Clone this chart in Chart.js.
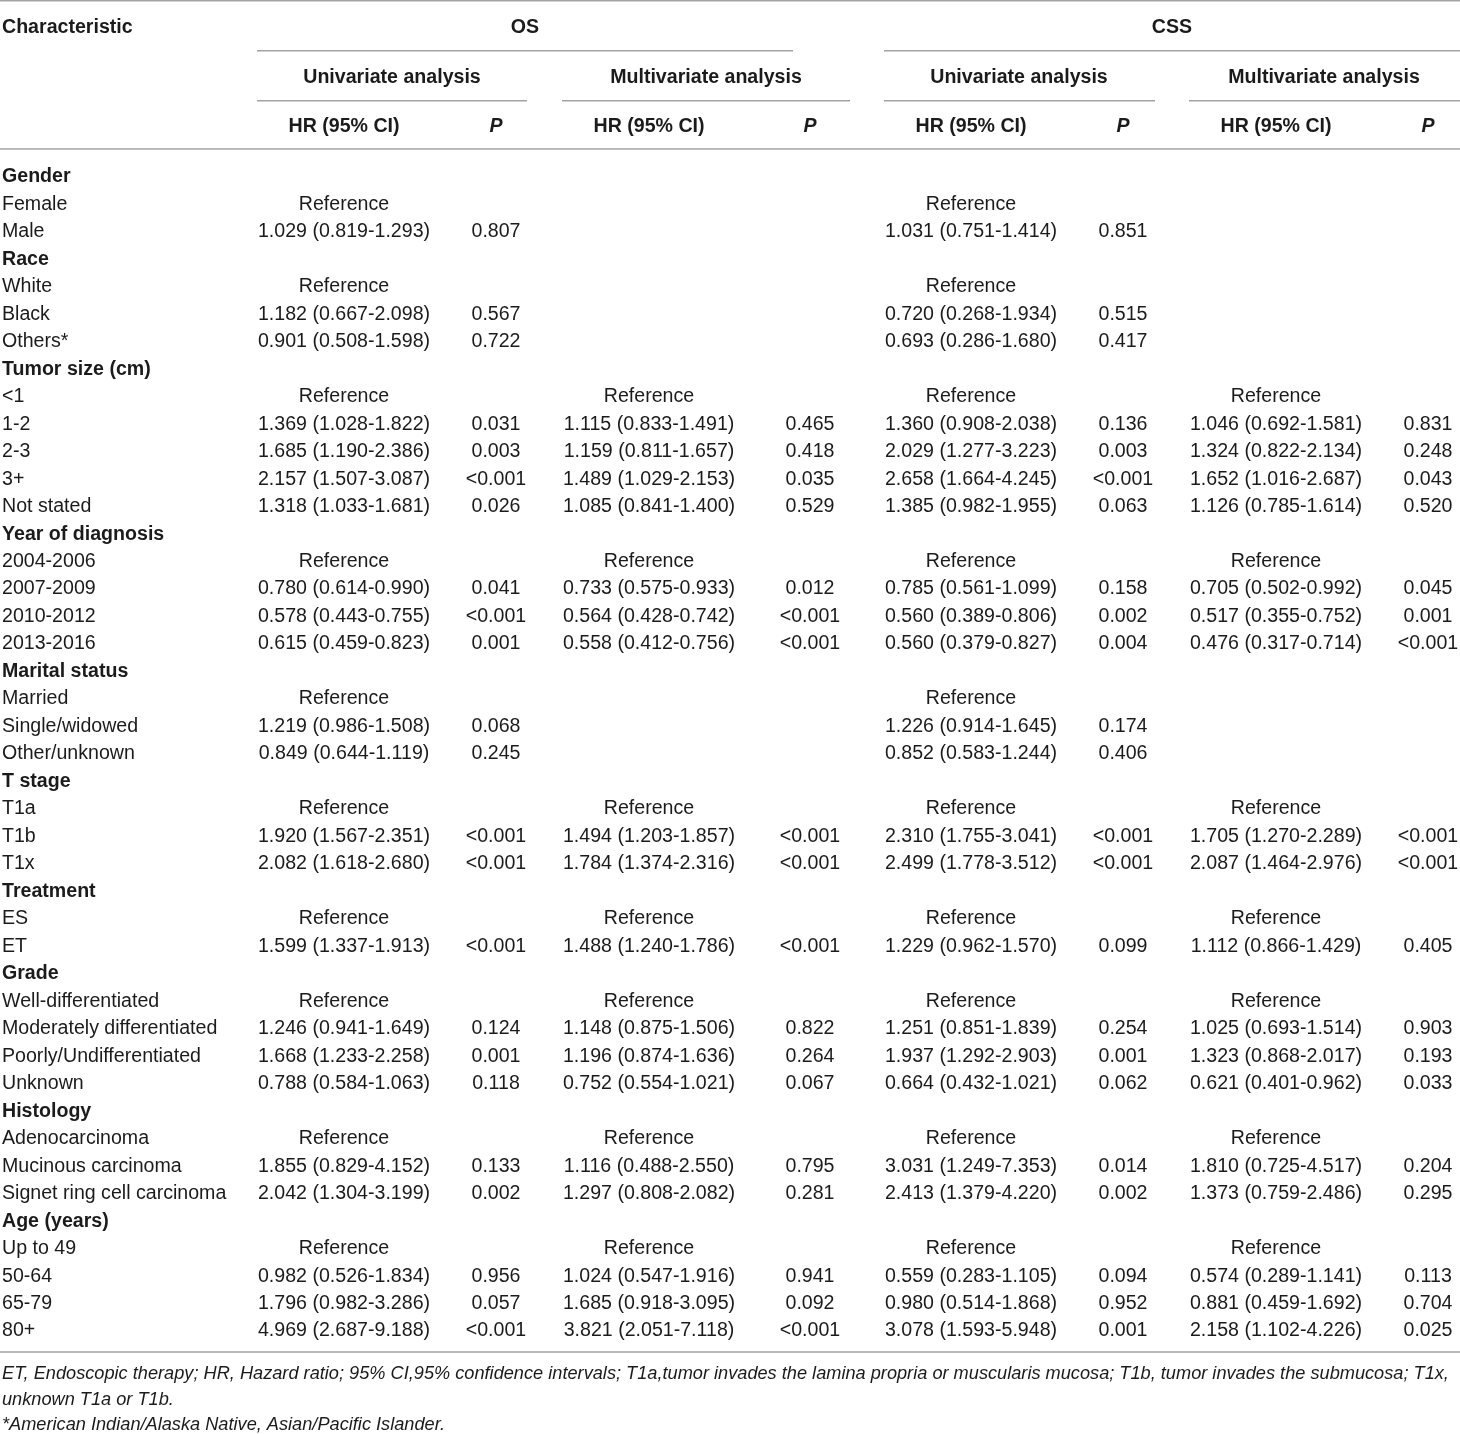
<!DOCTYPE html>
<html>
<head>
<meta charset="utf-8">
<script src="https://cdn.jsdelivr.net/npm/chart.js@4.4.0/dist/chart.umd.min.js"></script>
<style>
  html, body { margin: 0; padding: 0; background: #fff; }
  canvas { display: block; }
</style>
</head>
<body>
<canvas id="table-chart" width="1460" height="1434"></canvas>
<script>
// Row labels (groups are drawn bold)
const rowLabels = [
    'Gender', 'Female', 'Male',
    'Race', 'White', 'Black', 'Others*',
    'Tumor size (cm)', '<1', '1-2', '2-3', '3+', 'Not stated',
    'Year of diagnosis', '2004-2006', '2007-2009', '2010-2012', '2013-2016',
    'Marital status', 'Married', 'Single/widowed', 'Other/unknown',
    'T stage', 'T1a', 'T1b', 'T1x',
    'Treatment', 'ES', 'ET',
    'Grade', 'Well-differentiated', 'Moderately differentiated', 'Poorly/Undifferentiated', 'Unknown',
    'Histology', 'Adenocarcinoma', 'Mucinous carcinoma', 'Signet ring cell carcinoma',
    'Age (years)', 'Up to 49', '50-64', '65-79', '80+'
];
const groupRows = ['Gender', 'Race', 'Tumor size (cm)', 'Year of diagnosis', 'Marital status',
    'T stage', 'Treatment', 'Grade', 'Histology', 'Age (years)'];

const R = 'Reference';

// OS univariate
const osUniHR = ['', R, '1.029 (0.819-1.293)', '', R, '1.182 (0.667-2.098)', '0.901 (0.508-1.598)',
    '', R, '1.369 (1.028-1.822)', '1.685 (1.190-2.386)', '2.157 (1.507-3.087)', '1.318 (1.033-1.681)',
    '', R, '0.780 (0.614-0.990)', '0.578 (0.443-0.755)', '0.615 (0.459-0.823)',
    '', R, '1.219 (0.986-1.508)', '0.849 (0.644-1.119)',
    '', R, '1.920 (1.567-2.351)', '2.082 (1.618-2.680)',
    '', R, '1.599 (1.337-1.913)',
    '', R, '1.246 (0.941-1.649)', '1.668 (1.233-2.258)', '0.788 (0.584-1.063)',
    '', R, '1.855 (0.829-4.152)', '2.042 (1.304-3.199)',
    '', R, '0.982 (0.526-1.834)', '1.796 (0.982-3.286)', '4.969 (2.687-9.188)'];
const osUniP = ['', '', '0.807', '', '', '0.567', '0.722',
    '', '', '0.031', '0.003', '<0.001', '0.026',
    '', '', '0.041', '<0.001', '0.001',
    '', '', '0.068', '0.245',
    '', '', '<0.001', '<0.001',
    '', '', '<0.001',
    '', '', '0.124', '0.001', '0.118',
    '', '', '0.133', '0.002',
    '', '', '0.956', '0.057', '<0.001'];

// OS multivariate
const osMultiHR = ['', '', '', '', '', '', '',
    '', R, '1.115 (0.833-1.491)', '1.159 (0.811-1.657)', '1.489 (1.029-2.153)', '1.085 (0.841-1.400)',
    '', R, '0.733 (0.575-0.933)', '0.564 (0.428-0.742)', '0.558 (0.412-0.756)',
    '', '', '', '',
    '', R, '1.494 (1.203-1.857)', '1.784 (1.374-2.316)',
    '', R, '1.488 (1.240-1.786)',
    '', R, '1.148 (0.875-1.506)', '1.196 (0.874-1.636)', '0.752 (0.554-1.021)',
    '', R, '1.116 (0.488-2.550)', '1.297 (0.808-2.082)',
    '', R, '1.024 (0.547-1.916)', '1.685 (0.918-3.095)', '3.821 (2.051-7.118)'];
const osMultiP = ['', '', '', '', '', '', '',
    '', '', '0.465', '0.418', '0.035', '0.529',
    '', '', '0.012', '<0.001', '<0.001',
    '', '', '', '',
    '', '', '<0.001', '<0.001',
    '', '', '<0.001',
    '', '', '0.822', '0.264', '0.067',
    '', '', '0.795', '0.281',
    '', '', '0.941', '0.092', '<0.001'];

// CSS univariate
const cssUniHR = ['', R, '1.031 (0.751-1.414)', '', R, '0.720 (0.268-1.934)', '0.693 (0.286-1.680)',
    '', R, '1.360 (0.908-2.038)', '2.029 (1.277-3.223)', '2.658 (1.664-4.245)', '1.385 (0.982-1.955)',
    '', R, '0.785 (0.561-1.099)', '0.560 (0.389-0.806)', '0.560 (0.379-0.827)',
    '', R, '1.226 (0.914-1.645)', '0.852 (0.583-1.244)',
    '', R, '2.310 (1.755-3.041)', '2.499 (1.778-3.512)',
    '', R, '1.229 (0.962-1.570)',
    '', R, '1.251 (0.851-1.839)', '1.937 (1.292-2.903)', '0.664 (0.432-1.021)',
    '', R, '3.031 (1.249-7.353)', '2.413 (1.379-4.220)',
    '', R, '0.559 (0.283-1.105)', '0.980 (0.514-1.868)', '3.078 (1.593-5.948)'];
const cssUniP = ['', '', '0.851', '', '', '0.515', '0.417',
    '', '', '0.136', '0.003', '<0.001', '0.063',
    '', '', '0.158', '0.002', '0.004',
    '', '', '0.174', '0.406',
    '', '', '<0.001', '<0.001',
    '', '', '0.099',
    '', '', '0.254', '0.001', '0.062',
    '', '', '0.014', '0.002',
    '', '', '0.094', '0.952', '0.001'];

// CSS multivariate
const cssMultiHR = ['', '', '', '', '', '', '',
    '', R, '1.046 (0.692-1.581)', '1.324 (0.822-2.134)', '1.652 (1.016-2.687)', '1.126 (0.785-1.614)',
    '', R, '0.705 (0.502-0.992)', '0.517 (0.355-0.752)', '0.476 (0.317-0.714)',
    '', '', '', '',
    '', R, '1.705 (1.270-2.289)', '2.087 (1.464-2.976)',
    '', R, '1.112 (0.866-1.429)',
    '', R, '1.025 (0.693-1.514)', '1.323 (0.868-2.017)', '0.621 (0.401-0.962)',
    '', R, '1.810 (0.725-4.517)', '1.373 (0.759-2.486)',
    '', R, '0.574 (0.289-1.141)', '0.881 (0.459-1.692)', '2.158 (1.102-4.226)'];
const cssMultiP = ['', '', '', '', '', '', '',
    '', '', '0.831', '0.248', '0.043', '0.520',
    '', '', '0.045', '0.001', '<0.001',
    '', '', '', '',
    '', '', '<0.001', '<0.001',
    '', '', '0.405',
    '', '', '0.903', '0.193', '0.033',
    '', '', '0.204', '0.295',
    '', '', '0.113', '0.704', '0.025'];

const footnotes = [
    'ET, Endoscopic therapy; HR, Hazard ratio; 95% CI,95% confidence intervals; T1a,tumor invades the lamina propria or muscularis mucosa; T1b, tumor invades the submucosa; T1x,',
    'unknown T1a or T1b.',
    '*American Indian/Alaska Native, Asian/Pacific Islander.'
];

// Layout: column centres on the x scale, header rows on the row scale
const colX = [344, 496, 649, 810, 971, 1123, 1276, 1428];
const labelX = 2;
const FONT = '"Liberation Sans", Arial, Helvetica, sans-serif';
const SIZE = 19.6;
const TEXT = '#1b1b1b';
const RULE = '#a3a3a3';

const columns = [osUniHR, osUniP, osMultiHR, osMultiP, cssUniHR, cssUniP, cssMultiHR, cssMultiP];

// Build one dataset per column; each point sits in its cell
const datasets = columns.map((col, c) => ({
    label: 'col' + c,
    data: col.map((t, i) => ({ x: colX[c], y: i, text: t })),
    pointRadius: 0,
    showLine: false
}));
datasets.push({
    label: 'labels',
    data: rowLabels.map((t, i) => ({ x: labelX, y: i, text: t, bold: groupRows.includes(t) })),
    pointRadius: 0,
    showLine: false
});

const tablePlugin = {
    id: 'tableText',
    afterDatasetsDraw(chart) {
        const ctx = chart.ctx;
        const xs = chart.scales.x;
        const ys = chart.scales.y;
        ctx.save();
        ctx.textBaseline = 'alphabetic';
        ctx.fillStyle = TEXT;
        const drop = (size) => size * 0.357;   // row centre -> baseline

        // cell text
        chart.data.datasets.forEach((ds, di) => {
            const meta = chart.getDatasetMeta(di);
            const isLabel = ds.label === 'labels';
            meta.data.forEach((el, i) => {
                const d = ds.data[i];
                if (!d.text) return;
                ctx.font = (d.bold ? 'bold ' : '') + SIZE + 'px ' + FONT;
                ctx.textAlign = isLabel ? 'left' : 'center';
                ctx.fillText(d.text, el.x, el.y + drop(SIZE));
            });
        });

        // rules
        ctx.strokeStyle = RULE;
        ctx.lineWidth = 1.6;
        const rule = (x0, x1, r) => {
            const y = ys.getPixelForValue(r);
            ctx.beginPath();
            ctx.moveTo(xs.getPixelForValue(x0), y);
            ctx.lineTo(xs.getPixelForValue(x1), y);
            ctx.stroke();
        };
        rule(0, 1460, -6.35);
        rule(257, 793, -4.53);
        rule(884, 1460, -4.53);
        rule(257, 527, -2.71);
        rule(562, 850, -2.71);
        rule(884, 1155, -2.71);
        rule(1189, 1460, -2.71);
        rule(0, 1460, -0.955);
        rule(0, 1460, 42.82);

        // header text
        const head = (t, x, r, align, italic) => {
            ctx.font = (italic ? 'italic ' : '') + 'bold ' + SIZE + 'px ' + FONT;
            ctx.textAlign = align;
            ctx.fillText(t, xs.getPixelForValue(x), ys.getPixelForValue(r) + drop(SIZE));
        };
        head('Characteristic', labelX, -5.422, 'left');
        head('OS', 525, -5.422, 'center');
        head('CSS', 1172, -5.422, 'center');
        head('Univariate analysis', 392, -3.613, 'center');
        head('Multivariate analysis', 706, -3.613, 'center');
        head('Univariate analysis', 1019, -3.613, 'center');
        head('Multivariate analysis', 1324, -3.613, 'center');
        for (let c = 0; c < colX.length; c++) {
            if (c % 2 === 0) head('HR (95% CI)', colX[c], -1.82, 'center');
            else head('P', colX[c], -1.82, 'center', true);
        }

        // footnotes
        const FOOT = 18.2;
        ctx.font = 'italic ' + FOOT + 'px ' + FONT;
        ctx.textAlign = 'left';
        const footRows = [43.58, 44.50, 45.42];
        footnotes.forEach((t, i) => {
            ctx.fillText(t, xs.getPixelForValue(labelX), ys.getPixelForValue(footRows[i]) + drop(FOOT), 1456);
        });
        ctx.restore();
    }
};

new Chart(document.getElementById('table-chart').getContext('2d'), {
    type: 'scatter',
    data: { datasets: datasets },
    options: {
        responsive: false,
        animation: false,
        events: [],
        layout: { padding: 0 },
        plugins: {
            legend: { display: false },
            tooltip: { enabled: false }
        },
        scales: {
            x: { type: 'linear', min: 0, max: 1460, display: false },
            y: { type: 'linear', min: -6.379, max: 45.804, reverse: true, display: false }
        }
    },
    plugins: [tablePlugin]
});
</script>
</body>
</html>
